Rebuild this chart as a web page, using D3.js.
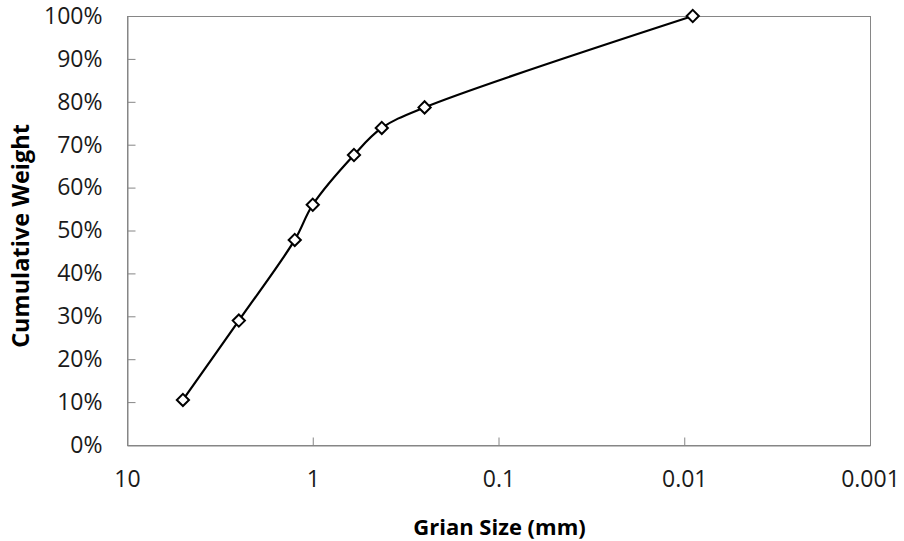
<!DOCTYPE html>
<html>
<head>
<meta charset="utf-8">
<script src="https://cdn.jsdelivr.net/npm/d3@7/dist/d3.min.js"></script>
<style>
  html, body { margin: 0; padding: 0; background: #fff; }
  svg { display: block; }
</style>
</head>
<body>
<svg id="chart" width="904" height="541"></svg>
<script>
// ---- Data ----
const grainSizes = [5, 2.5, 1.25, 1, 0.6, 0.425, 0.25, 0.009];          // mm
const cumulativeWeight = [0.105, 0.29, 0.478, 0.56, 0.676, 0.739, 0.787, 1.0];
const xTickValues = [10, 1, 0.1, 0.01, 0.001];
const xTickLabels = ["10", "1", "0.1", "0.01", "0.001"];
const yTickValues = [0, 0.1, 0.2, 0.3, 0.4, 0.5, 0.6, 0.7, 0.8, 0.9, 1.0];
const xTitle = "Grian Size (mm)";
const yTitle = "Cumulative Weight";

// ---- Layout ----
const W = 904, H = 541;
const m = { left: 127, right: W - 870, top: 16, bottom: H - 445 };
const svg = d3.select("#chart");
const plotW = W - m.left - m.right, plotH = H - m.top - m.bottom;

const x = d3.scaleLog().domain([10, 0.001]).range([m.left, m.left + plotW]);
const y = d3.scaleLinear().domain([0, 1]).range([m.top + plotH, m.top]);

const axisColor = "#868686";
const textColor = "#1a1a1a";
const tickFont = "'Open Sans', sans-serif";

// Plot frame (top and right borders)
svg.append("rect")
  .attr("x", m.left + 0.5).attr("y", m.top + 0.5)
  .attr("width", plotW).attr("height", plotH)
  .attr("fill", "none").attr("stroke", axisColor).attr("stroke-width", 1);

// Y axis with inside ticks
const yAxis = d3.axisLeft(y).tickValues(yTickValues)
  .tickFormat(d3.format(".0%")).tickSizeInner(-8).tickSizeOuter(0).tickPadding(25);
const gy = svg.append("g").attr("transform", `translate(${m.left + 0.5},0)`).call(yAxis);
gy.select(".domain").attr("stroke", axisColor);
gy.selectAll(".tick line").attr("stroke", axisColor);
gy.selectAll(".tick text").attr("fill", textColor)
  .style("font-family", tickFont).style("font-size", "23px");

// X axis with inside ticks
const xAxis = d3.axisBottom(x).tickValues(xTickValues)
  .tickFormat((d, i) => xTickLabels[i]).tickSizeInner(-8).tickSizeOuter(0).tickPadding(25);
const gx = svg.append("g").attr("transform", `translate(0,${m.top + plotH + 0.5})`).call(xAxis);
gx.select(".domain").attr("stroke", axisColor);
gx.selectAll(".tick line").attr("stroke", axisColor)
  .attr("display", (d) => (d === 10 || d === 0.001) ? "none" : null);
gx.selectAll(".tick text").attr("fill", textColor)
  .style("font-family", tickFont).style("font-size", "23px");

// Axis titles
svg.append("text")
  .attr("x", m.left + plotW / 2 + 1).attr("y", 535)
  .attr("text-anchor", "middle")
  .attr("fill", "#000")
  .style("font-family", tickFont).style("font-weight", "bold").style("font-size", "22px")
  .text(xTitle);

svg.append("text")
  .attr("transform", `translate(29,236) rotate(-90)`)
  .attr("text-anchor", "middle")
  .attr("fill", "#000")
  .style("font-family", tickFont).style("font-weight", "bold").style("font-size", "23.5px")
  .text(yTitle);

// Data
const pts = grainSizes.map((s, i) => ({ s, w: cumulativeWeight[i] }));

const line = d3.line()
  .x(d => x(d.s)).y(d => y(d.w))
  .curve(d3.curveCatmullRom.alpha(0.5));

svg.append("path").datum(pts)
  .attr("d", line)
  .attr("fill", "none").attr("stroke", "#000").attr("stroke-width", 2.2);

const diamond = d3.symbol().type(d3.symbolDiamond2).size(95);
svg.selectAll(".marker").data(pts).join("path")
  .attr("class", "marker")
  .attr("transform", d => `translate(${x(d.s)},${y(d.w)})`)
  .attr("d", diamond)
  .attr("fill", "#fff").attr("stroke", "#000").attr("stroke-width", 2);
</script>
</body>
</html>
